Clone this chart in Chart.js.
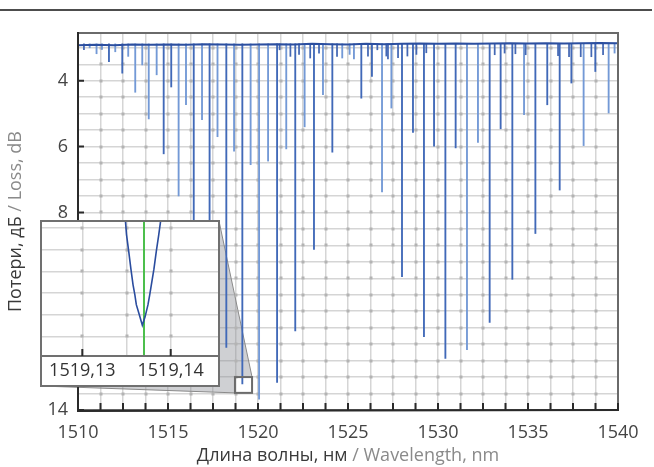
<!DOCTYPE html>
<html><head><meta charset="utf-8">
<script src="https://cdn.jsdelivr.net/npm/chart.js@4"></script>
<style>
html,body{margin:0;padding:0;background:#fff;}
#wrap{position:relative;width:654px;height:467px;overflow:hidden;background:#fff;}
#main{position:absolute;left:0;top:0;}
#rule{position:absolute;left:0;top:9px;width:652px;height:2px;background:#4d4d4d;}
#inset{position:absolute;left:40px;top:220px;width:176px;height:163px;border:2px solid #707070;background:#fff;}
#insetCanvas{display:block;}
</style></head>
<body>
<div id="wrap">
<canvas id="main" width="654" height="467"></canvas>
<div id="rule"></div>
<div id="inset"><canvas id="insetCanvas" width="176" height="163"></canvas></div>
</div>
<script>
// ---------- data ----------
const baseNm   = [1510,1511,1512,1513,1514,1515,1516,1517,1518,1519,1520,1521,1522,1523,1524,1525,1526,1527,1528,1529,1530,1531,1532,1533,1534,1535,1536,1537,1538,1539,1540];
const baseLoss = [2.92,2.91,2.92,2.90,2.91,2.90,2.91,2.89,2.90,2.91,2.90,2.89,2.90,2.88,2.89,2.90,2.88,2.89,2.88,2.87,2.88,2.87,2.88,2.87,2.86,2.87,2.86,2.87,2.86,2.85,2.86];
const baselineTop = 2.88;

const strongDipNm   = [1511.72,1512.46,1514.76,1515.18,1516.43,1517.31,1518.24,1519.13,1521.06,1522.07,1523.11,1524.13,1525.74,1526.33,1528.00,1528.61,1529.22,1529.78,1530.41,1530.98,1532.87,1533.48,1534.13,1535.41,1536.07,1536.76,1537.41,1538.74];
const strongDipLoss = [3.42,3.77,6.22,4.19,9.0,10.6,12.1,13.21,13.16,11.6,9.12,6.17,4.53,3.87,9.95,5.57,11.77,5.99,12.43,6.04,11.34,5.46,10.03,8.64,4.73,7.32,4.07,3.72];

const lightDipNm   = [1510.65,1511.03,1511.33,1512.07,1512.79,1513.18,1513.57,1513.93,1514.37,1515.59,1516.00,1516.89,1517.75,1518.67,1519.59,1520.06,1520.56,1521.57,1522.59,1523.61,1524.68,1525.09,1525.33,1526.89,1527.41,1531.61,1532.22,1534.78,1538.09,1539.48,1539.81];
const lightDipLoss = [3.00,3.18,3.05,3.12,3.26,4.35,3.52,5.16,3.82,7.50,4.73,5.18,5.70,6.14,6.55,13.67,6.44,6.07,5.40,4.42,3.31,3.20,3.34,7.38,4.83,12.17,5.87,5.03,5.97,4.98,3.16];

const weakDipNm   = [1510.33,1521.20,1521.80,1522.28,1522.90,1523.39,1524.39,1526.11,1526.63,1527.13,1527.22,1527.78,1528.30,1528.80,1529.35,1533.15,1533.70,1534.30,1534.87,1536.67,1537.28,1537.93,1538.52,1539.17];
const weakDipLoss = [3.06,3.06,3.26,3.20,3.31,3.16,3.26,3.25,3.06,3.25,3.34,3.30,3.25,3.20,3.15,3.21,3.16,3.18,3.21,3.24,3.27,3.27,3.27,3.21];

const xLabelValues = [1510,1515,1520,1525,1530,1535,1540];
const yLabelValues = [4,6,8,10,12,14];

// zoomed region shown in the inset
const zoomNm   = [1518.72, 1519.67];
const zoomLoss = [13.0, 13.48];

const insetNm   = [1519.13483,1519.13500,1519.13525,1519.13550,1519.13574,1519.13595,1519.13611,1519.13645,1519.13679,1519.13710,1519.13743,1519.13762,1519.13781,1519.13810,1519.13837,1519.13865,1519.13895];
const insetLoss = [12.74,12.83,12.908,12.99,13.062,13.11,13.154,13.20,13.249,13.21,13.154,13.11,13.062,12.99,12.908,12.83,12.74];
const markerNm = [1519.13698];
const insetLabelValues = [1519.13, 1519.14];

// ---------- helpers ----------
const FONT = '"Open Sans", "DejaVu Sans", sans-serif';
function range(a, b, step){ const r=[]; for(let v=a; v<=b+1e-9; v+=step) r.push(+v.toFixed(6)); return r; }
const xGrid = range(1510, 1540, 1.25);
const yGrid = range(3, 14, 0.5);
const insetXGrid = range(1519.13, 1519.14, 0.005);
const insetYGrid = range(12.8, 13.3, 0.1);

function dots(chart, xs, ys){
  const c=chart.ctx, sx=chart.scales.x, sy=chart.scales.y, a=chart.chartArea;
  c.save(); c.fillStyle='#b3b3b3';
  xs.forEach(xv=>{ const px=sx.getPixelForValue(xv); if(px<=a.left+1||px>=a.right-1) return;
    ys.forEach(yv=>{ const py=sy.getPixelForValue(yv); if(py<=a.top+1||py>=a.bottom-1) return;
      c.fillRect(Math.round(px)-1.5, Math.round(py)-1.5, 3, 3); }); });
  c.restore();
}
function twoTone(c, parts, x, y, rotate){
  c.save(); c.translate(x,y); if(rotate) c.rotate(-Math.PI/2);
  c.font = '18px ' + FONT; c.textBaseline='middle'; c.textAlign='left';
  const w = parts.reduce((s,p)=>s+c.measureText(p.t).width,0);
  let cx=-w/2;
  parts.forEach(p=>{ c.fillStyle=p.c; c.fillText(p.t,cx,0); cx+=c.measureText(p.t).width; });
  c.restore();
}

const mainDecor = {
  id:'mainDecor',
  beforeDatasetsDraw(chart){
    const c=chart.ctx, sx=chart.scales.x, sy=chart.scales.y;
    const rx1=sx.getPixelForValue(zoomNm[0]), rx2=sx.getPixelForValue(zoomNm[1]);
    const ry1=sy.getPixelForValue(zoomLoss[0]), ry2=sy.getPixelForValue(zoomLoss[1]);
    c.save();
    c.beginPath();
    c.moveTo(41,221); c.lineTo(219,221); c.lineTo(rx2,ry1); c.lineTo(rx1,ry1); c.lineTo(rx1,ry2); c.lineTo(41,386); c.closePath();
    c.fillStyle='rgba(140,143,150,0.42)'; c.fill();
    c.strokeStyle='#8a8a8a'; c.lineWidth=1;
    c.beginPath(); c.moveTo(219,221); c.lineTo(rx2,ry1); c.stroke();
    c.beginPath(); c.moveTo(rx1,ry2); c.lineTo(41,386); c.stroke();
    c.restore();
    dots(chart, xGrid, yGrid);
  },
  afterDatasetsDraw(chart){
    const c=chart.ctx, a=chart.chartArea, sx=chart.scales.x, sy=chart.scales.y;
    c.save();
    const rx1=sx.getPixelForValue(zoomNm[0]), rx2=sx.getPixelForValue(zoomNm[1]);
    const ry1=sy.getPixelForValue(zoomLoss[0]), ry2=sy.getPixelForValue(zoomLoss[1]);
    c.strokeStyle='#6b6b6b'; c.lineWidth=2; c.strokeRect(rx1,ry1,rx2-rx1,ry2-ry1);
    c.strokeStyle='#6a6a6a'; c.lineWidth=2;
    c.strokeRect(a.left,a.top,a.right-a.left,a.bottom-a.top);
    c.strokeStyle='#2a2a2a';
    c.beginPath(); c.moveTo(a.left,a.top-1); c.lineTo(a.left,a.bottom+1); c.lineTo(a.right+1,a.bottom); c.stroke();
    c.beginPath();
    xGrid.forEach(v=>{ const px=sx.getPixelForValue(v); c.moveTo(px,a.bottom); c.lineTo(px,a.bottom-7); });
    yLabelValues.forEach(v=>{ const py=sy.getPixelForValue(v); c.moveTo(a.left,py); c.lineTo(a.left+6,py); });
    c.stroke();
    c.restore();
  },
  afterDraw(chart){
    const c=chart.ctx, a=chart.chartArea;
    twoTone(c, [{t:'Длина волны, нм',c:'#3a3a3a'},{t:' / Wavelength, nm',c:'#8a8a8a'}], (a.left+a.right)/2, 456, false);
    twoTone(c, [{t:'Потери, дБ',c:'#3a3a3a'},{t:' / Loss, dB',c:'#8a8a8a'}], 16, (a.top+a.bottom)/2, true);
  }
};

const tickFont = {family: FONT, size: 18, weight: 'normal'};

new Chart(document.getElementById('main'), {
  type:'bar',
  data:{datasets:[
    {type:'line', label:'Baseline', data: baseNm.map((x,i)=>({x, y: baseLoss[i]})), borderColor:'#2c4f9f', borderWidth:2, pointRadius:0, order:0},
    {type:'bar', label:'Strong lines', data: strongDipNm.map((x,i)=>({x, y:[baselineTop, strongDipLoss[i]]})), backgroundColor:'#4169b8', barThickness:1.2, grouped:false, order:2},
    {type:'bar', label:'Light lines', data: lightDipNm.map((x,i)=>({x, y:[baselineTop, lightDipLoss[i]]})), backgroundColor:'#7399d6', barThickness:1.2, grouped:false, order:3},
    {type:'bar', label:'Weak lines', data: weakDipNm.map((x,i)=>({x, y:[baselineTop, weakDipLoss[i]]})), backgroundColor:'#4468b4', barThickness:1.1, grouped:false, order:1}
  ]},
  options:{
    responsive:false, animation:false, events:[],
    layout:{padding:{top:33, right:36, left:0, bottom:0}},
    plugins:{legend:{display:false}, tooltip:{enabled:false}, title:{display:false}},
    scales:{
      x:{type:'linear', min:1510, max:1540, offset:false,
        afterBuildTicks: s=>{ s.ticks = xGrid.map(v=>({value:v})); },
        afterFit: s=>{ s.height = 57; },
        grid:{color:'#d5d5d5', lineWidth:1.5, drawTicks:false, offset:false},
        border:{display:false},
        ticks:{autoSkip:false, maxRotation:0, padding:12, color:'#444444', font:tickFont,
          callback: v => xLabelValues.includes(v) ? String(v) : ''}
      },
      y:{type:'linear', reverse:true, min:2.55, max:14,
        afterBuildTicks: s=>{ s.ticks = yGrid.map(v=>({value:v})); },
        afterFit: s=>{ s.width = 78; },
        grid:{color:'#d5d5d5', lineWidth:1.5, drawTicks:false},
        border:{display:false},
        ticks:{autoSkip:false, padding:10, color:'#444444', font:tickFont,
          callback: v => yLabelValues.includes(v) ? String(v) : ''}
      }
    }
  },
  plugins:[mainDecor]
});

// ---------- inset ----------
const insetDecor = {
  id:'insetDecor',
  beforeDatasetsDraw(chart){
    dots(chart, insetXGrid, insetYGrid);
    const c=chart.ctx, a=chart.chartArea, sx=chart.scales.x;
    c.save(); c.strokeStyle='#4cbf4c'; c.lineWidth=2;
    markerNm.forEach(m=>{ const px=sx.getPixelForValue(m); c.beginPath(); c.moveTo(px,a.top); c.lineTo(px,a.bottom); c.stroke(); });
    c.restore();
  },
  afterDatasetsDraw(chart){
    const c=chart.ctx, a=chart.chartArea, sx=chart.scales.x;
    c.save(); c.strokeStyle='#707070'; c.lineWidth=2;
    c.beginPath(); c.moveTo(0,a.bottom); c.lineTo(chart.width,a.bottom); c.stroke();
    c.strokeStyle='#2a2a2a';
    c.beginPath();
    insetLabelValues.forEach(v=>{ const px=sx.getPixelForValue(v); c.moveTo(px,a.bottom); c.lineTo(px,a.bottom-7); });
    c.stroke(); c.restore();
  }
};

new Chart(document.getElementById('insetCanvas'), {
  type:'line',
  data:{datasets:[{label:'1519,13–1519,14', data: insetNm.map((x,i)=>({x, y: insetLoss[i]})), borderColor:'#2a4c9e', borderWidth:1.6, pointRadius:0, tension:0}]},
  options:{
    responsive:false, animation:false, events:[],
    layout:{padding:0},
    plugins:{legend:{display:false}, tooltip:{enabled:false}},
    scales:{
      x:{type:'linear', min:1519.12544, max:1519.14535,
        afterBuildTicks: s=>{ s.ticks = insetXGrid.map(v=>({value:v})); },
        afterFit: s=>{ s.height = 29; },
        grid:{color:'#d5d5d5', lineWidth:1.5, drawTicks:false},
        border:{display:false},
        ticks:{autoSkip:false, maxRotation:0, padding:4, color:'#333333', font:tickFont,
          callback: v => insetLabelValues.includes(v) ? v.toFixed(2).replace('.', ',') : ''}
      },
      y:{type:'linear', reverse:true, min:12.772, max:13.391,
        afterBuildTicks: s=>{ s.ticks = insetYGrid.map(v=>({value:v})); },
        afterFit: s=>{ s.width = 0; },
        grid:{color:'#d5d5d5', lineWidth:1.5, drawTicks:false},
        border:{display:false},
        ticks:{display:false}
      }
    }
  },
  plugins:[insetDecor]
});
</script>
</body></html>
